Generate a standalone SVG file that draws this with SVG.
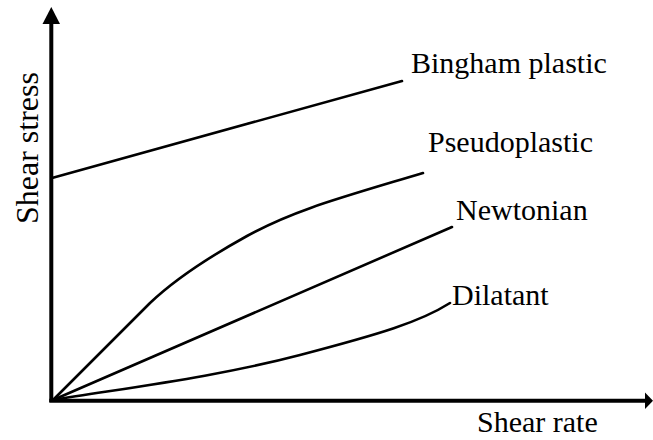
<svg xmlns="http://www.w3.org/2000/svg" width="653" height="440" viewBox="0 0 653 440">
<style>
.lbl{font-family:"Liberation Serif","Times New Roman","DejaVu Serif",serif;font-size:30px;fill:#000}
.ax{stroke:#000;stroke-width:4;fill:none}
.cv{stroke:#000;stroke-width:2.6;fill:none;stroke-linecap:round;stroke-linejoin:round}
</style>
<rect width="653" height="440" fill="#fff"/>
<g id="axes">
<line class="ax" x1="51.3" y1="402" x2="51.3" y2="20"/>
<polygon points="51.3,7 42.5,24 60,24" fill="#000"/>
<line class="ax" x1="49.3" y1="400.8" x2="648" y2="400.8"/>
<polygon points="653,400.8 645,392.5 645,409" fill="#000"/>
</g>
<g id="connectors">
<line id="bingham-line" class="cv" x1="52" y1="178" x2="402" y2="81"/>
<path id="pseudo-line" class="cv" d="M53,400 L150,303 C170,284 200,262 247,236 S340,198 423,173"/>
<line id="newton-line" class="cv" x1="53" y1="400" x2="452" y2="227"/>
<path id="dilatant-line" class="cv" d="M53,400 C140,386 220,376 300,355 S420,322 450,303"/>
</g>
<g id="bingham"><text class="lbl" x="411" y="73">Bingham plastic</text></g>
<g id="pseudoplastic"><text class="lbl" x="428" y="152">Pseudoplastic</text></g>
<g id="newtonian"><text class="lbl" x="456" y="220">Newtonian</text></g>
<g id="dilatant"><text class="lbl" x="452" y="305">Dilatant</text></g>
<g id="x-label"><text class="lbl" x="477" y="432">Shear rate</text></g>
<g id="y-label"><text class="lbl" style="font-size:32px" transform="translate(38,148) rotate(-90)" text-anchor="middle">Shear stress</text></g>
</svg>
